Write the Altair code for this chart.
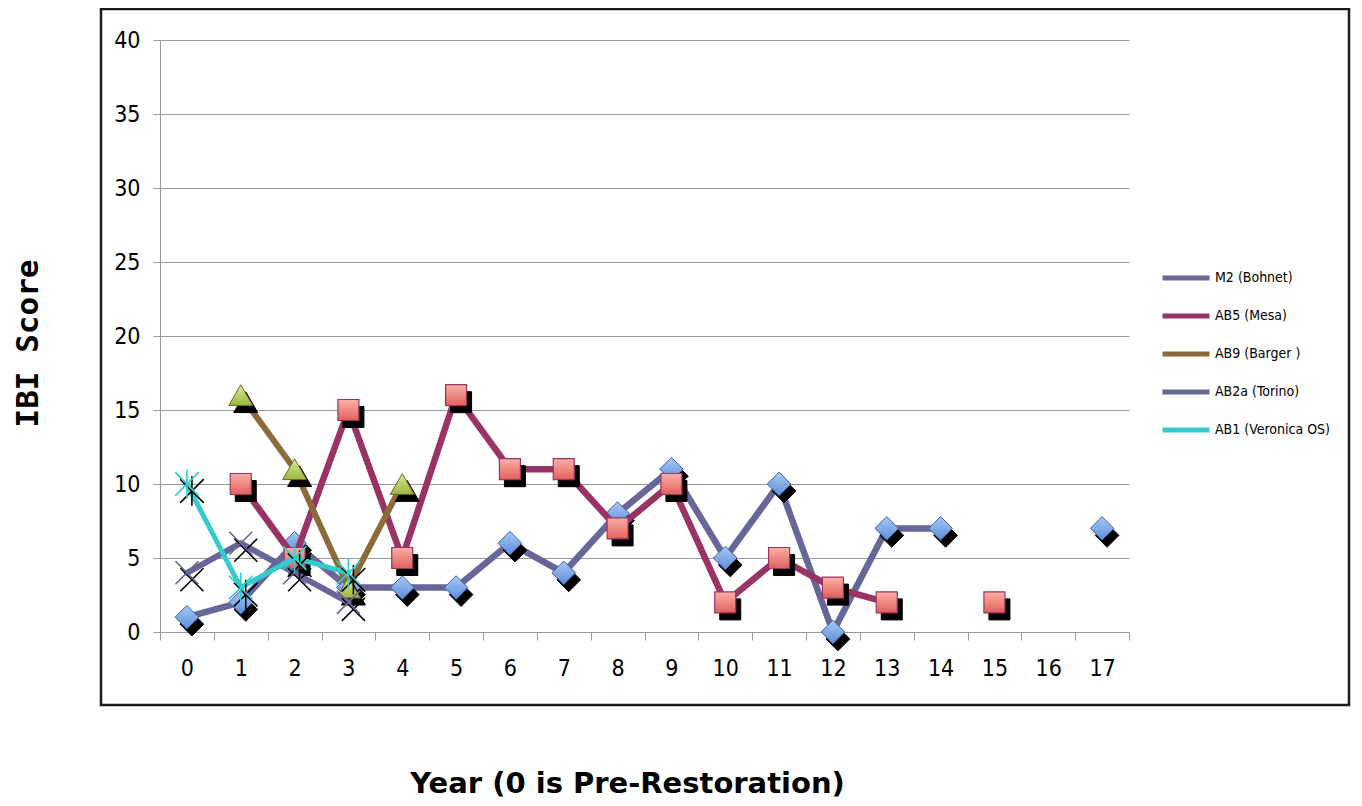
import altair as alt
import pandas as pd

years = list(range(18))
series_names = ["M2 (Bohnet)", "AB5 (Mesa)", "AB9 (Barger )", "AB2a (Torino)", "AB1 (Veronica OS)"]
m2 = [1, 2, 6, 3, 3, 3, 6, 4, 8, 11, 5, 10, 0, 7, 7, None, None, 7]
mesa = [None, 10, 5, 15, 5, 16, 11, 11, 7, 10, 2, 5, 3, 2, None, 2, None, None]
barger = [None, 16, 11, 3, 10] + [None] * 13
torino = [4, 6, 4, 2] + [None] * 14
veronica = [10, 3, 5, 4] + [None] * 14
all_values = [m2, mesa, barger, torino, veronica]

line_colors = ["#666699", "#993366", "#8c6b38", "#666699", "#33cccc"]
line_widths = [6.5, 6.5, 6, 6, 5]

LABEL_FONT = "Liberation Sans Narrow, DejaVu Sans Condensed, Roboto, sans-serif"

rows = []
for name, vals in zip(series_names, all_values):
    seg = 0
    prev_none = False
    for y, v in zip(years, vals):
        if v is None:
            prev_none = True
            continue
        if prev_none and any(r["series"] == name for r in rows):
            seg += 1
        prev_none = False
        rows.append({"year": y, "value": v, "series": name, "seg": seg})
df = pd.DataFrame(rows)


def grad(c1, c2):
    return alt.LinearGradient(
        gradient="linear",
        stops=[alt.GradientStop(color=c1, offset=0), alt.GradientStop(color=c2, offset=1)],
        x1=0, x2=0, y1=0, y2=1,
    )


marker_styles = [
    dict(shape="diamond", size=560, filled=True, fill=grad("#a9c8f5", "#5a8ed8"), stroke="#3f5fa6", strokeWidth=1),
    dict(shape="square", size=441, filled=True, fill=grad("#fbb0a8", "#e0605a"), stroke="#993366", strokeWidth=1.2),
    dict(shape="triangle-up", size=576, filled=True, fill=grad("#dbe9a0", "#98b83a"), stroke="#7a6224", strokeWidth=1),
    dict(shape="M-1,-1L1,1M1,-1L-1,1", size=529, filled=False, stroke="#666699", strokeWidth=1.6),
    dict(shape="M-1,-1L1,1M1,-1L-1,1M0,-1.25L0,1.25", size=560, filled=False, stroke="#33cccc", strokeWidth=1.6),
]

x_enc = alt.X(
    "year:O",
    scale=alt.Scale(type="band", domain=years, paddingInner=0, paddingOuter=0),
    axis=alt.Axis(
        title="Year (0 is Pre-Restoration)",
        titleFont="DejaVu Sans", titleFontSize=29, titleFontWeight="bold", titleColor="#000000",
        titleX=467, titleY=151, titleAlign="center", titleBaseline="middle", titleAngle=0,
        labelFont=LABEL_FONT, labelFontSize=23, labelColor="#000000", labelAngle=0, labelPadding=17,
        tickBand="extent", tickSize=8, tickColor="#999999", domainColor="#999999", grid=False,
    ),
)
y_enc = alt.Y(
    "value:Q",
    scale=alt.Scale(domain=[0, 40], nice=False),
    axis=alt.Axis(
        title="IBI Score",
        titleFont="DejaVu Sans Mono", titleFontSize=31, titleFontWeight="bold", titleColor="#000000",
        titleX=-132, titleY=303, titleAlign="center", titleBaseline="middle", titleAngle=270,
        labelFont=LABEL_FONT, labelFontSize=23, labelColor="#000000", labelPadding=13,
        values=list(range(0, 41, 5)), tickSize=7, tickColor="#999999", domainColor="#999999",
        grid=True, gridColor="#999999", gridWidth=1,
    ),
)

box = alt.Chart(pd.DataFrame({"a": [0]})).mark_rect(
    fill="transparent", stroke="#1a1a1a", strokeWidth=2.5
).encode(x=alt.value(-59), x2=alt.value(1189), y=alt.value(-31), y2=alt.value(665))

layers = [box]
for i, name in enumerate(series_names):
    base = alt.Chart(df).transform_filter(alt.datum.series == name)
    line = base.mark_line(strokeWidth=line_widths[i], strokeJoin="round", strokeCap="round").encode(
        x=x_enc, y=y_enc, detail="seg:N",
        color=alt.Color(
            "series:N",
            scale=alt.Scale(domain=series_names, range=line_colors),
            legend=alt.Legend(
                title=None, orient="none", legendX=1000, legendY=212,
                symbolType="stroke", symbolStrokeWidth=5, symbolSize=2209,
                labelFont=LABEL_FONT, labelFontSize=14, labelColor="#000000", labelOffset=3,
                rowPadding=2,
            ),
            sort=series_names,
        ),
    )
    st = marker_styles[i]
    if st["filled"]:
        shadow = base.mark_point(shape=st["shape"], size=st["size"], filled=True, fill="#000000",
                                 stroke="#000000", strokeWidth=1, opacity=1, xOffset=5, yOffset=7)
        pts = base.mark_point(shape=st["shape"], size=st["size"], filled=True, fill=st["fill"],
                              stroke=st["stroke"], strokeWidth=st["strokeWidth"], opacity=1)
    else:
        shadow = base.mark_point(shape=st["shape"], size=st["size"], filled=False,
                                 stroke="#000000", strokeWidth=st["strokeWidth"], opacity=1, xOffset=5, yOffset=7)
        pts = base.mark_point(shape=st["shape"], size=st["size"], filled=False,
                              stroke=st["stroke"], strokeWidth=st["strokeWidth"], opacity=1)
    layers += [line, shadow.encode(x=x_enc, y=y_enc), pts.encode(x=x_enc, y=y_enc)]

chart = alt.layer(*layers).properties(
    width=969, height=592,
    autosize=alt.AutoSizeParams(type="none"),
    padding={"left": 152, "top": 32, "right": 225, "bottom": 170},
    background="#ffffff",
).configure_view(stroke=None)

chart.save("out.html", embed_options={"renderer": "svg", "actions": False})
